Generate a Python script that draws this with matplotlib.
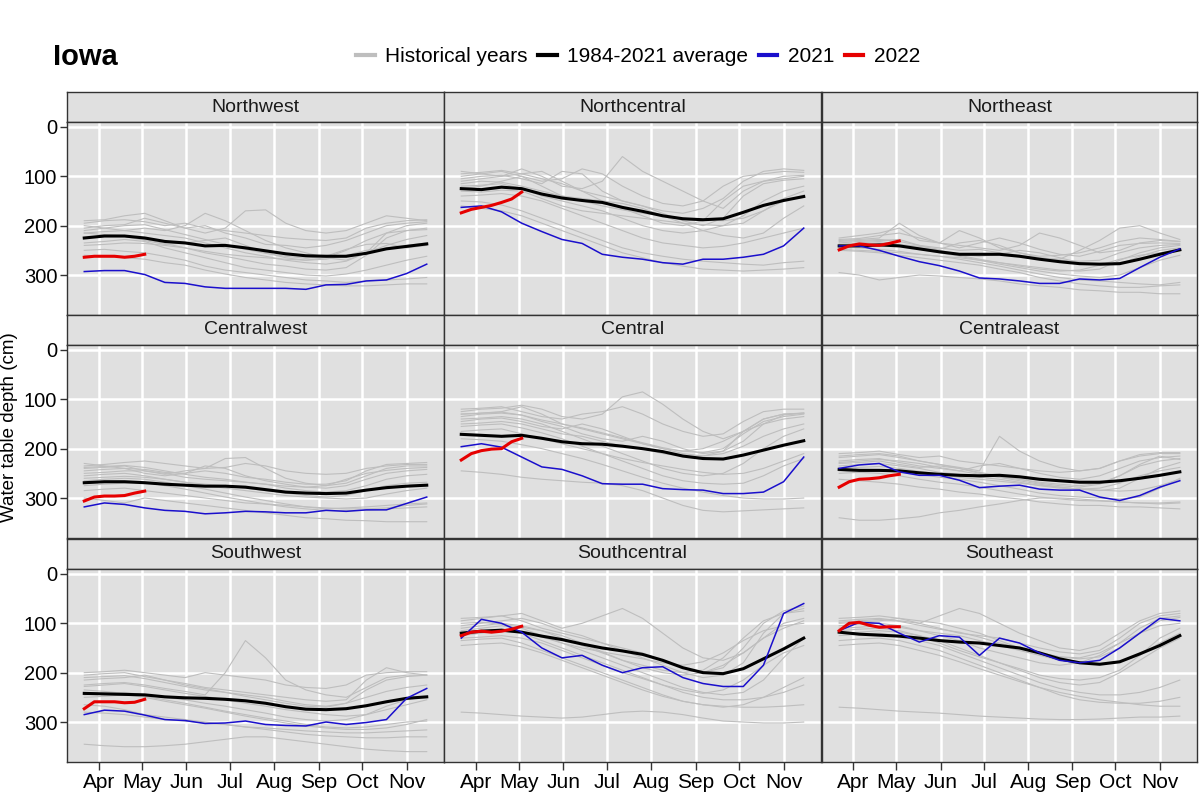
import matplotlib
matplotlib.use("Agg")
import matplotlib.pyplot as plt
from matplotlib.lines import Line2D

plt.rcParams['font.family'] = ['Liberation Sans', 'DejaVu Sans']

# day of year of each semi-monthly reading, and of the weekly 2022 readings
days = [81, 95, 109, 123, 137, 151, 165, 179, 193, 207, 221, 235, 249, 263, 277, 291, 305, 319]
days_2022 = [81, 88, 95, 102, 109, 116, 123]
month_days = [91, 121, 152, 182, 213, 244, 274, 305]
month_labels = ['Apr', 'May', 'Jun', 'Jul', 'Aug', 'Sep', 'Oct', 'Nov']
depth_ticks = [0, 100, 200, 300]

region_names = ['Northwest', 'Northcentral', 'Northeast',
                'Centralwest', 'Central', 'Centraleast',
                'Southwest', 'Southcentral', 'Southeast']

# ---- Northwest
nw_avg = [225, 221, 221, 225, 232, 235, 241, 240, 245, 251, 257, 261, 262, 262, 256, 247, 242, 237]
nw_2021 = [293, 291, 291, 299, 315, 317, 324, 327, 327, 327, 327, 329, 320, 319, 312, 310, 297, 278]
nw_2022 = [264, 262, 262, 262, 264, 262, 258]
nw_hist = [
    [195, 190, 188, 192, 200, 195, 205, 210, 215, 220, 225, 228, 230, 225, 205, 195, 190, 188],
    [205, 200, 198, 185, 195, 205, 200, 215, 225, 238, 240, 245, 240, 230, 215, 200, 195, 192],
    [215, 212, 210, 215, 220, 225, 235, 245, 255, 262, 270, 275, 278, 272, 255, 240, 228, 220],
    [225, 220, 222, 230, 238, 235, 230, 225, 240, 255, 265, 270, 268, 260, 250, 245, 240, 235],
    [235, 232, 228, 232, 245, 255, 265, 275, 285, 290, 295, 300, 302, 298, 290, 280, 270, 262],
    [200, 205, 210, 205, 210, 200, 175, 190, 210, 230, 245, 255, 265, 270, 255, 215, 200, 195],
    [250, 248, 252, 255, 262, 270, 282, 290, 295, 300, 305, 310, 312, 315, 312, 310, 308, 305],
    [190, 188, 180, 175, 190, 205, 215, 205, 170, 168, 195, 210, 215, 210, 195, 180, 185, 190],
    [260, 262, 265, 268, 275, 280, 290, 298, 305, 310, 315, 318, 320, 322, 322, 320, 318, 318],
    [215, 218, 220, 228, 236, 245, 255, 262, 270, 278, 282, 288, 290, 285, 260, 225, 210, 205],
    [240, 238, 235, 236, 240, 245, 252, 258, 262, 265, 268, 270, 265, 250, 230, 215, 210, 208],
    [210, 205, 200, 198, 208, 218, 228, 238, 248, 256, 262, 266, 262, 248, 238, 236, 245, 240],
]

# ---- Northcentral
nc_avg = [125, 127, 122, 125, 136, 144, 149, 153, 163, 171, 180, 186, 188, 186, 173, 159, 149, 141]
nc_2021 = [163, 160, 172, 195, 212, 228, 236, 258, 264, 268, 275, 278, 268, 268, 264, 258, 241, 205]
nc_2022 = [174, 167, 163, 159, 153, 146, 132]
nc_hist = [
    [100, 95, 90, 100, 110, 105, 85, 95, 120, 140, 155, 160, 150, 120, 100, 95, 90, 92],
    [110, 105, 100, 95, 90, 110, 130, 140, 150, 160, 175, 190, 200, 185, 140, 115, 108, 105],
    [120, 118, 115, 125, 140, 150, 160, 170, 185, 200, 210, 215, 210, 200, 180, 150, 130, 120],
    [90, 95, 100, 85, 100, 120, 125, 110, 60, 90, 110, 130, 150, 165, 130, 110, 100, 98],
    [140, 138, 135, 140, 150, 165, 180, 195, 210, 225, 235, 240, 245, 242, 235, 225, 215, 205],
    [105, 100, 98, 105, 115, 90, 95, 130, 150, 160, 170, 175, 165, 145, 110, 90, 85, 88],
    [130, 132, 128, 130, 145, 160, 170, 175, 180, 185, 190, 195, 198, 200, 195, 170, 145, 130],
    [150, 152, 158, 170, 185, 200, 215, 230, 245, 255, 262, 268, 272, 275, 278, 280, 275, 272],
    [95, 92, 88, 95, 105, 115, 130, 150, 165, 180, 195, 200, 190, 150, 120, 110, 105, 100],
    [115, 110, 112, 120, 130, 140, 150, 160, 168, 175, 180, 185, 188, 190, 185, 170, 150, 138],
    [125, 120, 110, 100, 120, 140, 145, 150, 155, 165, 180, 195, 210, 220, 225, 215, 185, 160],
    [160, 165, 170, 180, 195, 210, 225, 240, 255, 265, 275, 282, 288, 290, 292, 290, 288, 285],
]

# ---- Northeast
ne_avg = [241, 241, 239, 241, 247, 253, 258, 258, 258, 262, 268, 273, 277, 278, 277, 268, 258, 249]
ne_2021 = [241, 241, 250, 262, 273, 281, 292, 306, 308, 312, 317, 317, 308, 310, 307, 285, 264, 247]
ne_2022 = [249, 241, 237, 239, 240, 236, 231]
ne_hist = [
    [235, 232, 230, 228, 240, 245, 250, 248, 255, 260, 265, 270, 272, 270, 255, 245, 240, 238],
    [240, 238, 235, 240, 248, 255, 262, 270, 275, 280, 285, 290, 292, 288, 270, 255, 245, 240],
    [230, 228, 225, 195, 220, 235, 240, 245, 250, 240, 215, 225, 240, 255, 250, 235, 230, 232],
    [245, 245, 248, 252, 258, 262, 265, 270, 278, 285, 292, 298, 302, 305, 300, 285, 270, 260],
    [225, 220, 215, 205, 230, 235, 210, 225, 245, 255, 265, 268, 250, 230, 205, 200, 215, 228],
    [250, 252, 255, 260, 265, 270, 275, 280, 288, 295, 305, 312, 318, 322, 325, 325, 322, 320],
    [238, 235, 232, 238, 242, 248, 235, 230, 240, 255, 262, 260, 255, 245, 232, 225, 228, 232],
    [295, 300, 310, 305, 300, 302, 305, 308, 312, 318, 322, 325, 330, 332, 335, 335, 338, 338],
    [242, 240, 238, 240, 245, 250, 258, 262, 258, 250, 255, 265, 275, 280, 278, 262, 250, 245],
    [232, 230, 228, 232, 240, 250, 260, 268, 275, 282, 288, 292, 290, 280, 268, 260, 255, 250],
    [248, 250, 252, 255, 258, 262, 268, 275, 282, 290, 298, 305, 310, 312, 315, 318, 320, 315],
    [228, 226, 220, 215, 225, 235, 245, 235, 225, 235, 248, 258, 262, 252, 240, 236, 235, 236],
]

# ---- Centralwest
cw_avg = [269, 267, 267, 269, 272, 274, 276, 276, 278, 283, 288, 290, 291, 290, 284, 279, 276, 274]
cw_2021 = [318, 310, 313, 320, 325, 327, 332, 330, 327, 328, 330, 330, 325, 327, 324, 324, 311, 298]
cw_2022 = [306, 298, 296, 296, 295, 290, 286]
cw_hist = [
    [235, 232, 228, 225, 230, 235, 240, 238, 230, 235, 245, 250, 252, 250, 240, 235, 232, 232],
    [245, 242, 240, 242, 248, 250, 235, 240, 255, 265, 272, 278, 280, 275, 262, 250, 245, 242],
    [255, 252, 250, 255, 262, 268, 272, 275, 280, 285, 290, 295, 298, 295, 285, 275, 270, 268],
    [240, 238, 235, 245, 252, 245, 240, 220, 218, 240, 260, 270, 275, 270, 255, 240, 235, 235],
    [265, 262, 260, 262, 268, 275, 282, 290, 298, 305, 312, 318, 322, 320, 318, 315, 312, 310],
    [300, 305, 310, 300, 305, 310, 315, 320, 325, 330, 335, 340, 342, 345, 346, 348, 348, 348],
    [250, 248, 245, 245, 250, 258, 262, 265, 268, 272, 280, 285, 288, 285, 275, 262, 255, 252],
    [275, 272, 270, 268, 275, 282, 290, 298, 305, 312, 318, 322, 325, 326, 325, 322, 320, 318],
    [230, 235, 240, 250, 255, 250, 245, 250, 258, 262, 268, 272, 272, 265, 245, 232, 230, 228],
    [260, 258, 256, 258, 262, 268, 275, 280, 285, 290, 295, 298, 300, 302, 300, 292, 285, 280],
    [285, 282, 280, 285, 290, 295, 300, 305, 310, 312, 315, 318, 320, 322, 322, 320, 315, 312],
    [238, 236, 234, 238, 245, 252, 258, 262, 268, 272, 276, 278, 275, 262, 250, 244, 240, 238],
]

# ---- Central
c_avg = [171, 173, 175, 173, 179, 186, 190, 191, 195, 200, 206, 215, 220, 221, 213, 203, 193, 184]
c_2021 = [196, 190, 197, 217, 237, 242, 255, 271, 272, 272, 281, 283, 284, 291, 291, 288, 267, 217]
c_2022 = [223, 210, 204, 201, 200, 186, 179]
c_hist = [
    [120, 118, 115, 125, 135, 140, 130, 125, 115, 130, 150, 165, 175, 170, 145, 125, 120, 120],
    [130, 128, 125, 115, 130, 150, 160, 170, 180, 190, 200, 210, 215, 205, 165, 140, 130, 128],
    [140, 138, 135, 140, 150, 165, 180, 195, 210, 225, 240, 250, 255, 250, 230, 200, 175, 160],
    [150, 148, 145, 150, 160, 170, 175, 185, 195, 200, 210, 215, 215, 210, 195, 175, 160, 150],
    [125, 120, 118, 112, 120, 135, 140, 130, 95, 85, 110, 140, 165, 180, 165, 140, 130, 128],
    [165, 162, 160, 170, 180, 190, 200, 210, 225, 240, 255, 265, 270, 272, 270, 255, 235, 220],
    [135, 130, 128, 132, 145, 155, 170, 180, 185, 175, 185, 200, 210, 205, 185, 150, 132, 128],
    [180, 182, 185, 192, 200, 210, 220, 232, 245, 258, 270, 280, 288, 295, 300, 302, 302, 300],
    [245, 248, 252, 258, 262, 265, 268, 270, 275, 285, 300, 315, 325, 328, 326, 324, 322, 320],
    [145, 140, 138, 145, 155, 160, 150, 160, 175, 190, 200, 205, 200, 185, 165, 150, 140, 135],
    [155, 152, 150, 158, 168, 180, 195, 210, 220, 228, 235, 242, 248, 252, 250, 240, 225, 210],
    [130, 128, 126, 132, 142, 150, 158, 168, 178, 188, 198, 205, 208, 200, 170, 145, 135, 130],
]

# ---- Centraleast
ce_avg = [242, 244, 244, 245, 249, 252, 254, 255, 254, 257, 262, 265, 268, 268, 265, 260, 254, 247]
ce_2021 = [240, 233, 230, 247, 254, 254, 264, 279, 276, 274, 282, 284, 284, 298, 305, 295, 278, 265]
ce_2022 = [278, 267, 262, 261, 259, 255, 252]
ce_hist = [
    [210, 208, 205, 212, 218, 215, 225, 230, 235, 240, 245, 248, 245, 240, 225, 215, 210, 210],
    [225, 222, 220, 228, 235, 240, 245, 235, 230, 240, 250, 258, 262, 255, 240, 225, 218, 215],
    [235, 232, 230, 235, 240, 248, 252, 258, 262, 268, 275, 280, 282, 280, 270, 255, 245, 238],
    [218, 215, 212, 218, 225, 232, 238, 245, 175, 205, 225, 238, 245, 240, 225, 212, 208, 208],
    [245, 248, 250, 255, 262, 268, 272, 278, 285, 292, 298, 302, 305, 306, 308, 310, 310, 308],
    [262, 265, 268, 272, 278, 282, 288, 292, 298, 302, 308, 312, 315, 315, 318, 318, 320, 322],
    [230, 228, 225, 232, 238, 235, 240, 248, 255, 262, 270, 275, 278, 272, 255, 232, 215, 222],
    [340, 345, 345, 342, 338, 330, 325, 318, 312, 305, 300, 300, 302, 305, 308, 310, 312, 310],
    [215, 212, 210, 215, 225, 232, 240, 250, 258, 265, 272, 278, 282, 285, 280, 260, 240, 228],
    [250, 248, 245, 248, 252, 258, 262, 268, 275, 282, 290, 295, 298, 300, 302, 298, 280, 260],
    [228, 225, 222, 225, 230, 238, 245, 252, 258, 262, 268, 272, 275, 270, 255, 235, 225, 220],
    [240, 238, 236, 240, 246, 252, 258, 262, 266, 270, 274, 278, 282, 284, 286, 284, 275, 262],
]

# ---- Southwest
sw_avg = [242, 243, 244, 245, 249, 251, 252, 254, 257, 262, 269, 274, 275, 273, 267, 259, 252, 249]
sw_2021 = [285, 276, 278, 286, 295, 297, 303, 302, 298, 305, 307, 308, 300, 305, 301, 295, 252, 232]
sw_2022 = [273, 259, 259, 259, 261, 260, 254]
sw_hist = [
    [200, 198, 195, 200, 205, 210, 200, 205, 210, 215, 225, 230, 232, 225, 205, 200, 198, 198],
    [215, 212, 210, 205, 215, 225, 232, 240, 248, 255, 262, 268, 270, 262, 235, 215, 208, 205],
    [225, 222, 220, 225, 232, 238, 245, 200, 135, 170, 215, 235, 245, 250, 230, 210, 205, 205],
    [235, 238, 242, 248, 255, 262, 270, 278, 285, 292, 298, 305, 310, 312, 310, 305, 300, 298],
    [210, 208, 206, 212, 220, 228, 235, 240, 245, 250, 258, 265, 268, 262, 250, 238, 230, 225],
    [265, 268, 275, 285, 290, 295, 300, 305, 310, 315, 320, 325, 328, 330, 332, 332, 330, 330],
    [345, 348, 350, 350, 348, 345, 340, 335, 330, 330, 335, 340, 345, 350, 355, 358, 360, 360],
    [245, 242, 240, 245, 250, 255, 262, 268, 275, 282, 290, 295, 298, 295, 285, 268, 255, 248],
    [205, 202, 200, 208, 215, 222, 230, 235, 240, 245, 250, 255, 258, 255, 215, 190, 200, 205],
    [280, 282, 285, 290, 295, 298, 302, 305, 310, 312, 315, 318, 320, 322, 322, 320, 318, 316],
    [228, 225, 222, 228, 235, 242, 248, 255, 262, 268, 275, 280, 285, 288, 285, 275, 265, 255],
    [250, 248, 245, 250, 258, 265, 272, 280, 288, 295, 302, 308, 312, 315, 315, 312, 305, 295],
]

# ---- Southcentral
sc_avg = [120, 116, 114, 118, 126, 133, 142, 150, 156, 163, 175, 190, 200, 202, 192, 172, 152, 130]
sc_2021 = [130, 92, 100, 118, 150, 170, 165, 185, 200, 190, 188, 210, 222, 228, 228, 185, 80, 60]
sc_2022 = [125, 118, 116, 118, 116, 112, 106]
sc_hist = [
    [95, 90, 85, 95, 110, 120, 130, 140, 150, 160, 175, 190, 200, 190, 150, 100, 75, 65],
    [105, 100, 95, 90, 100, 115, 125, 140, 155, 170, 185, 200, 210, 205, 180, 120, 80, 70],
    [115, 110, 105, 110, 125, 140, 155, 170, 185, 200, 215, 230, 240, 245, 240, 215, 170, 130],
    [125, 120, 115, 120, 135, 150, 165, 180, 195, 210, 225, 240, 250, 255, 255, 250, 240, 225],
    [90, 88, 85, 80, 95, 110, 100, 85, 70, 90, 120, 150, 170, 175, 160, 130, 100, 90],
    [135, 132, 130, 140, 155, 170, 185, 200, 215, 230, 245, 258, 265, 268, 270, 270, 268, 265],
    [100, 98, 102, 108, 115, 125, 140, 158, 175, 190, 200, 205, 200, 185, 160, 130, 110, 95],
    [280, 282, 285, 288, 290, 292, 290, 285, 280, 278, 280, 285, 292, 298, 300, 302, 302, 300],
    [110, 105, 100, 105, 115, 130, 145, 160, 175, 185, 195, 200, 195, 170, 130, 95, 80, 75],
    [145, 142, 140, 148, 160, 175, 190, 205, 220, 235, 248, 258, 265, 270, 265, 250, 230, 210],
    [120, 115, 112, 118, 128, 140, 150, 158, 165, 172, 180, 185, 178, 160, 135, 115, 105, 100],
    [130, 128, 125, 130, 140, 155, 170, 185, 200, 212, 225, 235, 242, 235, 215, 185, 160, 145],
]

# ---- Southeast
se_avg = [118, 122, 124, 126, 130, 135, 138, 140, 145, 150, 160, 172, 180, 183, 178, 162, 145, 125]
se_2021 = [115, 98, 100, 120, 138, 125, 128, 165, 130, 140, 160, 175, 180, 175, 150, 120, 90, 95]
se_2022 = [115, 100, 98, 104, 108, 107, 107]
se_hist = [
    [95, 92, 90, 95, 100, 85, 70, 80, 100, 120, 135, 150, 155, 145, 120, 95, 80, 75],
    [105, 102, 100, 105, 115, 125, 135, 150, 160, 170, 180, 185, 180, 165, 140, 110, 90, 85],
    [115, 112, 110, 115, 125, 135, 150, 165, 180, 195, 210, 220, 225, 220, 200, 175, 150, 130],
    [125, 122, 120, 125, 135, 145, 160, 175, 190, 205, 220, 232, 240, 245, 245, 240, 230, 215],
    [100, 98, 95, 90, 100, 110, 120, 125, 130, 140, 150, 158, 162, 155, 130, 100, 85, 80],
    [135, 132, 130, 135, 145, 155, 170, 185, 200, 215, 230, 245, 255, 260, 262, 262, 258, 250],
    [90, 88, 85, 90, 95, 100, 110, 120, 135, 150, 160, 168, 170, 160, 140, 120, 105, 100],
    [145, 142, 140, 145, 155, 165, 178, 192, 205, 218, 230, 240, 248, 255, 260, 265, 268, 268],
    [110, 108, 105, 108, 115, 120, 125, 135, 145, 155, 165, 175, 180, 182, 178, 165, 140, 120],
    [120, 118, 115, 118, 125, 140, 155, 168, 180, 192, 205, 212, 215, 210, 195, 165, 130, 110],
    [270, 272, 275, 278, 280, 282, 285, 288, 290, 292, 294, 295, 295, 294, 292, 290, 290, 288],
    [98, 95, 92, 96, 104, 112, 118, 128, 140, 150, 160, 168, 172, 168, 150, 120, 95, 88],
]

avgs = [nw_avg, nc_avg, ne_avg, cw_avg, c_avg, ce_avg, sw_avg, sc_avg, se_avg]
y2021 = [nw_2021, nc_2021, ne_2021, cw_2021, c_2021, ce_2021, sw_2021, sc_2021, se_2021]
y2022 = [nw_2022, nc_2022, ne_2022, cw_2022, c_2022, ce_2022, sw_2022, sc_2022, se_2022]
hists = [nw_hist, nc_hist, ne_hist, cw_hist, c_hist, ce_hist, sw_hist, sc_hist, se_hist]

W, H = 1200, 800
fig = plt.figure(figsize=(12, 8), dpi=100)

grey = '#bebebe'
blue = '#1a0fcc'
red = '#e60000'
panel_bg = '#e0e0e0'
col_left = [67, 444, 822]
col_w = 377
row_top = [92, 315, 539]
strip_h = 30
panel_h = 193

for k, name in enumerate(region_names):
    r, c = divmod(k, 3)
    x0 = col_left[c]
    w = col_w if c < 2 else 1197 - x0
    st = row_top[r]
    # strip
    sax = fig.add_axes([x0 / W, 1 - (st + strip_h) / H, w / W, strip_h / H])
    sax.set_facecolor(panel_bg)
    sax.set_xticks([])
    sax.set_yticks([])
    for sp in sax.spines.values():
        sp.set_linewidth(1.0)
        sp.set_color('#333333')
    sax.text(0.5, 0.5, name, ha='center', va='center', fontsize=14, color='#1a1a1a',
             transform=sax.transAxes)

    ax = fig.add_axes([x0 / W, 1 - (st + strip_h + panel_h) / H, w / W, panel_h / H])
    ax.set_facecolor(panel_bg)
    for sp in ax.spines.values():
        sp.set_linewidth(1.0)
        sp.set_color('#333333')
    ax.set_xlim(69, 331)
    ax.set_ylim(381, -10)
    ax.set_xticks(month_days)
    ax.set_yticks(depth_ticks)
    ax.grid(True, color='white', linewidth=1.8)
    ax.set_axisbelow(True)

    for h in hists[k]:
        ax.plot(days, h, color=grey, linewidth=0.8)
    ax.plot(days, avgs[k], color='black', linewidth=2.2)
    ax.plot(days, y2021[k], color=blue, linewidth=1.1)
    ax.plot(days_2022, y2022[k], color=red, linewidth=2.2)

    ax.tick_params(axis='x', length=6, width=1, color='#333333', labelsize=15,
                   labelcolor='black', pad=2)
    ax.tick_params(axis='y', length=5, width=1, color='#333333', labelsize=14.5,
                   labelcolor='black', pad=2)
    if r == 2:
        ax.set_xticklabels(month_labels)
    else:
        ax.tick_params(axis='x', length=0, labelbottom=False)
    if c == 0:
        ax.set_yticklabels([str(v) for v in depth_ticks])
    else:
        ax.tick_params(axis='y', length=0, labelleft=False)

fig.text(1 / W, 1 - 427 / H, 'Water table depth (cm)', rotation=90, ha='left', va='center',
         fontsize=13.5)
fig.text(53 / W, 1 - 57 / H, 'Iowa', fontsize=21, fontweight='bold', ha='left', va='center')

handles = [Line2D([], [], color=grey, linewidth=3),
           Line2D([], [], color='black', linewidth=3),
           Line2D([], [], color=blue, linewidth=3),
           Line2D([], [], color=red, linewidth=3)]
labels = ['Historical years', '1984-2021 average', '2021', '2022']
fig.legend(handles, labels, loc='center', bbox_to_anchor=(638 / W, 1 - 57 / H), ncol=4,
           frameon=False, fontsize=15, handlelength=0.9, handletextpad=0.5, columnspacing=0.5)

fig.savefig('out.png', dpi=100)
